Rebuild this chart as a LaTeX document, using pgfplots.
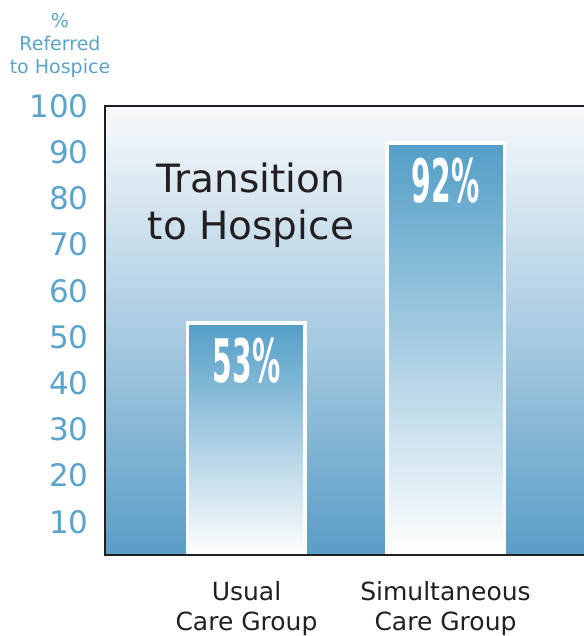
\documentclass[border=0pt]{standalone}
\usepackage{pgfplots}
\pgfplotsset{compat=1.18}
\usepackage{fontspec}
\setmainfont{DejaVu Sans}
\definecolor{tickblue}{HTML}{5AA3CB}
\definecolor{bgtop}{HTML}{F8FAFC}
\definecolor{bgbot}{HTML}{5A9DC7}
\definecolor{bartop}{HTML}{539EC7}
\definecolor{framec}{HTML}{231F20}
\begin{document}
\begin{tikzpicture}[x=1pt,y=1pt]
\begin{axis}[
  at={(105pt,81pt)}, anchor=south west,
  scale only axis, width=480pt, height=449pt,
  xmin=0.289, xmax=2.701, ymin=2.8, ymax=100,
  enlargelimits=false,
  axis line style={draw=none},
  axis background/.style={shade, top color=bgtop, bottom color=bgbot},
  ytick={10,20,...,100},
  major tick length=0pt,
  /pgf/number format/assume math mode=true,
  yticklabel style={font=\fontsize{31}{31}\selectfont, text=tickblue, xshift=-13pt},
  xtick={1,2},
  xticklabels={{Usual\\Care Group},{Simultaneous\\Care Group}},
  xticklabel style={align=center, font=\fontsize{25}{30}\selectfont, text=framec, yshift=-23pt},
  ybar, bar width=117.5pt, bar shift=0pt,
  nodes near coords={\scalebox{0.47}[1]{\bfseries\pgfmathprintnumber{\pgfplotspointmeta}\%}},
  every node near coord/.append style={anchor=center, yshift=-38pt, text=white, font=\fontsize{60}{60}\selectfont},
]
\addplot[draw=white, line width=3.5pt, top color=bartop, bottom color=white] coordinates {(1,53)};
\addplot[draw=white, line width=3.5pt, top color=bartop, bottom color=white] coordinates {(2,92)};
\coordinate (tl) at (rel axis cs:0,1);
\coordinate (tr) at (rel axis cs:1,1);
\coordinate (bl) at (rel axis cs:0,0);
\coordinate (br) at (rel axis cs:1,0);
\end{axis}
\draw[framec, line width=2pt] (tr) -- (tl) -- (bl) -- (br);
\node[align=center, font=\fontsize{19}{23}\selectfont, text=tickblue] at (60pt,591pt) {\%\\Referred\\to Hospice};
\node[align=center, font=\fontsize{39}{47}\selectfont, text=framec] at (251pt,431pt) {Transition\\to Hospice};
\pgfresetboundingbox
\path[use as bounding box] (0,0) rectangle (583pt,636pt);
\end{tikzpicture}
\end{document}
